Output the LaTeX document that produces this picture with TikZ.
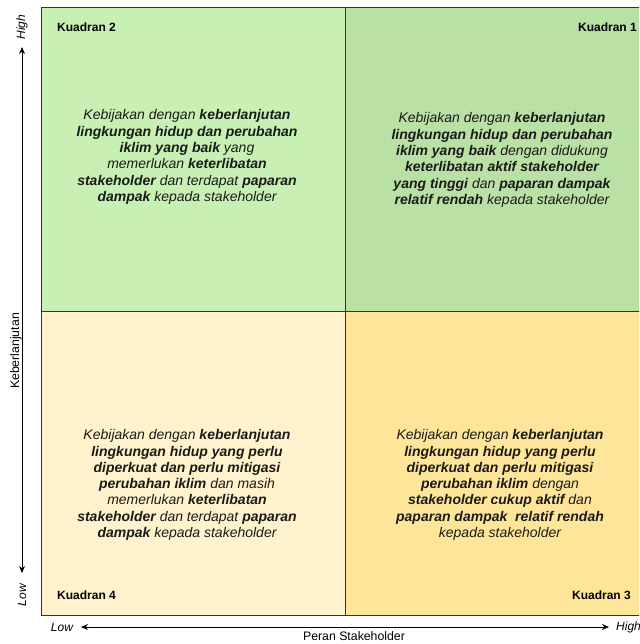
\documentclass[tikz,border=0pt]{standalone}
\usepackage{fontspec}
\setmainfont{Liberation Sans}
\usetikzlibrary{arrows.meta}
\definecolor{qone}{HTML}{B9E0A5}
\definecolor{qtwo}{HTML}{C8F0B4}
\definecolor{qthree}{HTML}{FFE599}
\definecolor{qfour}{HTML}{FFF2CC}
\definecolor{gridline}{HTML}{333333}
\definecolor{softtext}{HTML}{1A1A1A}
\newcommand{\bt}[1]{\textbf{#1}}
\begin{document}
\begin{tikzpicture}[x=1pt,y=-1pt,
  quad/.style={draw=gridline, line width=1pt, minimum width=304pt, minimum height=304pt, anchor=north west, inner sep=0pt},
  klabel/.style={font=\fontsize{12}{14}\selectfont\bfseries, text=black, inner sep=0pt},
  body/.style={font=\fontsize{14}{16.3}\selectfont\itshape, text=softtext, align=center, inner sep=0pt},
  axislab/.style={font=\fontsize{12}{14}\selectfont\itshape, inner sep=0pt},
  axisname/.style={font=\fontsize{12.3}{14}\selectfont, inner sep=0pt},
  axis/.style={draw=black, line width=0.9pt, {Stealth[length=7pt,width=6pt]}-{Stealth[length=7pt,width=6pt]}}
]
\clip (0,0) rectangle (639,644);
\fill[white] (0,0) rectangle (639,644);

% quadrants
\node[quad, fill=qtwo] (q2) at (41,7) {};
\node[quad, fill=qone] (q1) at (345,7) {};
\node[quad, fill=qfour] (q4) at (41,311) {};
\node[quad, fill=qthree] (q3) at (345,311) {};

% quadrant labels
\node[klabel, anchor=west] (k2) at (57,27) {Kuadran 2};
\node[klabel, anchor=east] (k1) at (637,27) {Kuadran 1};
\node[klabel, anchor=west] (k4) at (57,595) {Kuadran 4};
\node[klabel, anchor=east] (k3) at (631,595) {Kuadran 3};

% body texts
\node[body] (t2) at (187,157) {Kebijakan dengan \bt{keberlanjutan}\\
\bt{lingkungan hidup dan perubahan}\\
\bt{iklim yang baik} yang\\
memerlukan \bt{keterlibatan}\\
\bt{stakeholder} dan terdapat \bt{paparan}\\
\bt{dampak} kepada stakeholder};

\node[body] (t1) at (502,160) {Kebijakan dengan \bt{keberlanjutan}\\
\bt{lingkungan hidup dan perubahan}\\
\bt{iklim yang baik} dengan didukung\\
\bt{keterlibatan aktif stakeholder}\\
\bt{yang tinggi} dan \bt{paparan dampak}\\
\bt{relatif rendah} kepada stakeholder};

\node[body] (t4) at (187,485) {Kebijakan dengan \bt{keberlanjutan}\\
\bt{lingkungan hidup yang perlu}\\
\bt{diperkuat dan perlu mitigasi}\\
\bt{perubahan iklim} dan masih\\
memerlukan \bt{keterlibatan}\\
\bt{stakeholder} dan terdapat \bt{paparan}\\
\bt{dampak} kepada stakeholder};

\node[body] (t3) at (500,485) {Kebijakan dengan \bt{keberlanjutan}\\
\bt{lingkungan hidup yang perlu}\\
\bt{diperkuat dan perlu mitigasi}\\
\bt{perubahan iklim} dengan\\
\bt{stakeholder cukup aktif} dan\\
\bt{paparan dampak\ \ relatif rendah}\\
kepada stakeholder};

% vertical axis
\node[axislab, rotate=90] (vhigh) at (22,27) {High};
\node[axislab, rotate=90] (vlow) at (22,595) {Low};
\coordinate (vtop) at (22,47);
\coordinate (vbot) at (22,573);
\draw[axis] (vtop) -- (vbot);
\node[axisname, rotate=90] (vname) at (16,351) {Keberlanjutan};

% horizontal axis
\node[axislab] (hlow) at (62,627) {Low};
\node[axislab, anchor=west] (hhigh) at (616,627) {High};
\coordinate (hleft) at (81,627);
\coordinate (hright) at (609,627);
\draw[axis] (hleft) -- (hright);
\node[axisname] (hname) at (354,636) {Peran Stakeholder};
\end{tikzpicture}
\end{document}
